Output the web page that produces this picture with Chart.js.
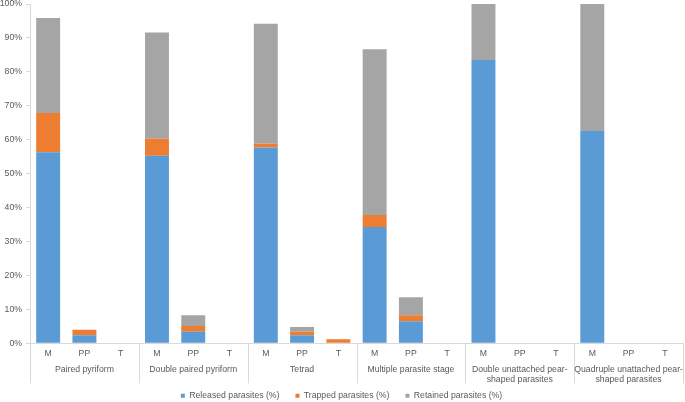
<!DOCTYPE html>
<html>
<head>
<meta charset="utf-8">
<script src="https://cdn.jsdelivr.net/npm/chart.js@4"></script>
<style>
  html, body { margin: 0; padding: 0; background: #fff; }
  #wrap { width: 685px; height: 402px; }
</style>
</head>
<body>
<div id="wrap"><canvas id="chart"></canvas></div>
<script>
  const stages = ['M', 'PP', 'T'];
  const groups = [
    ['Paired pyriform'],
    ['Double paired pyriform'],
    ['Tetrad'],
    ['Multiple parasite stage'],
    ['Double unattached pear-', 'shaped parasites'],
    ['Quadruple unattached pear-', 'shaped parasites']
  ];
  const categories = groups.flatMap(() => stages);

  const released = [56.3, 2.4, 0, 55.3, 3.4, 0, 57.7, 2.4, 0, 34.3, 6.5, 0, 83.5, 0, 0, 62.6, 0, 0];
  const trapped  = [11.6, 1.6, 0, 5.0, 1.7, 0, 1.1, 1.1, 1.2, 3.5, 1.8, 0, 0, 0, 0, 0, 0, 0];
  const retained = [28.0, 0, 0, 31.3, 3.2, 0, 35.4, 1.3, 0, 48.9, 5.3, 0, 16.5, 0, 0, 37.4, 0, 0];

  const yTicks = [0, 10, 20, 30, 40, 50, 60, 70, 80, 90, 100];

  const textColor = '#595959';
  const lineColor = '#d9d9d9';
  const font = { family: 'Liberation Sans, Arial, sans-serif', size: 8.7 };

  // second row of x labels + separators between groups
  const groupLabels = {
    id: 'groupLabels',
    afterDraw(chart) {
      const xs = chart.scales.x;
      const bottom = chart.chartArea.bottom;
      const ctx = chart.ctx;
      ctx.save();
      ctx.strokeStyle = lineColor;
      ctx.lineWidth = 1;
      for (let k = 0; k <= groups.length; k++) {
        const x = Math.round(xs.getPixelForValue(k * stages.length - 0.5)) + 0.5;
        ctx.beginPath();
        ctx.moveTo(x, bottom);
        ctx.lineTo(x, bottom + 40);
        ctx.stroke();
      }
      ctx.fillStyle = textColor;
      ctx.font = font.size + 'px ' + font.family;
      ctx.textAlign = 'center';
      ctx.textBaseline = 'middle';
      groups.forEach((lines, k) => {
        const x = xs.getPixelForValue(k * stages.length + 1);
        lines.forEach((line, i) => {
          ctx.fillText(line, x, bottom + 26 + i * 10.5);
        });
      });
      ctx.restore();
    }
  };

  new Chart(document.getElementById('chart'), {
    type: 'bar',
    data: {
      labels: categories,
      datasets: [
        { label: 'Released parasites (%)', data: released, backgroundColor: '#5b9bd5' },
        { label: 'Trapped parasites (%)', data: trapped, backgroundColor: '#ed7d31' },
        { label: 'Retained parasites (%)', data: retained, backgroundColor: '#a5a5a5' }
      ]
    },
    options: {
      responsive: true,
      maintainAspectRatio: false,
      animation: false,
      layout: { padding: { left: 0, right: 2, top: 4, bottom: -8 } },
      datasets: { bar: { barPercentage: 0.66, categoryPercentage: 1, borderWidth: 0 } },
      plugins: {
        legend: {
          position: 'bottom',
          labels: { boxWidth: 4, boxHeight: 4, padding: 16, color: textColor, font }
        },
        tooltip: { enabled: false }
      },
      scales: {
        x: {
          stacked: true,
          grid: { display: false, drawTicks: false },
          border: { color: lineColor },
          ticks: { color: textColor, font, padding: 5, maxRotation: 0, autoSkip: false },
          afterFit: s => { s.height = 32; }
        },
        y: {
          stacked: true,
          min: 0,
          max: 100,
          afterBuildTicks: s => { s.ticks = yTicks.map(v => ({ value: v })); },
          grid: { drawOnChartArea: false, tickLength: 4, color: lineColor },
          border: { color: lineColor },
          ticks: { color: textColor, font, padding: 4, callback: v => v + '%' },
          afterFit: s => { s.width = 30; s.paddingTop = 0; s.paddingBottom = 0; }
        }
      }
    },
    plugins: [groupLabels]
  });
</script>
</body>
</html>
